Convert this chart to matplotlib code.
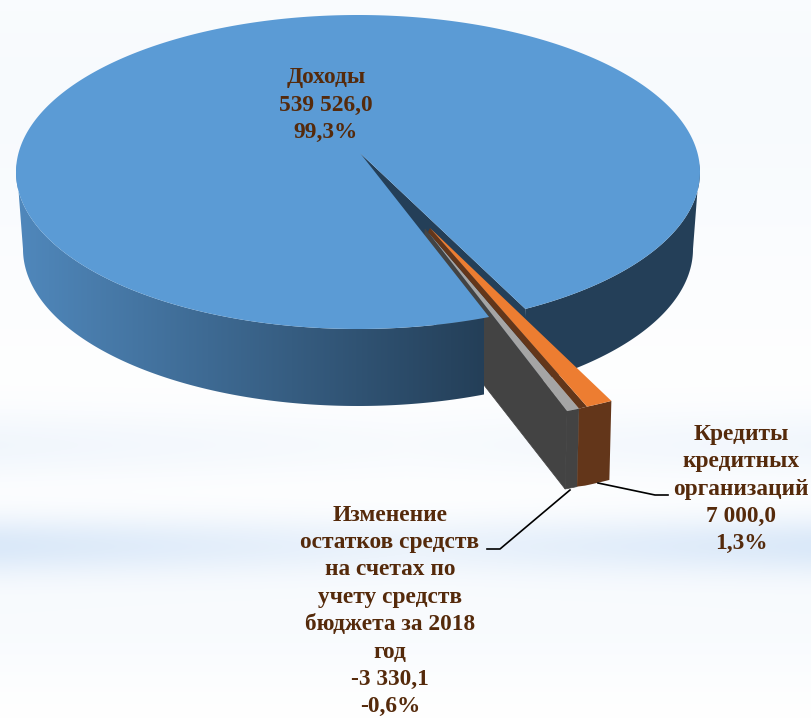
import numpy as np
import matplotlib
matplotlib.use('Agg')
import matplotlib.pyplot as plt
from matplotlib.colors import to_rgb
from matplotlib.patches import Polygon

# Data
names = ['Доходы', 'Кредиты\nкредитных\nорганизаций',
         'Изменение\nостатков средств\nна счетах по\nучету средств\nбюджета за 2018\nгод']
values = [539526.0, 7000.0, -3330.1]

TEXT_COLOR = '#552A0B'
BLUE = '#5B9BD5'
BLUE_DARK = '#243F58'
ORANGE = '#ED7D31'
ORANGE_DARK = '#63361A'
GRAY = '#A5A5A5'
GRAY_DARK = '#434343'

# Projected pie geometry, in pixels
RX, RY = 342, 157
RX_BOTTOM = 335
DEPTH = 77
START_ANGLE = 60.7


def arc(center, a0, a1, n=200, rx=RX):
    t = np.radians(np.linspace(a0, a1, n))
    return np.column_stack([center[0] + rx * np.cos(t), center[1] + RY * np.sin(t)])


def label_text(name, value):
    num = f'{value:,.1f}'.replace(',', ' ').replace('.', ',')
    pct = f'{value / sum(values) * 100:.1f}'.replace('.', ',')
    return f'{name}\n{num}\n{pct}%'


def make_background():
    y, x = np.mgrid[0:718, 0:812]
    side = 0.5 + 0.5 * np.abs(x - 406) / 406
    band = (0.28 * np.exp(-((y - 445) / 35.0) ** 2) * side
            + 0.75 * np.exp(-((y - 545) / 30.0) ** 2) * side
            + 0.15 * np.exp(-((y - 620) / 60.0) ** 2)
            + 0.16 * np.exp(-((y - 100) / 200.0) ** 2))
    band = np.clip(band, 0, 1)[..., None]
    return (1 - band) * np.array([1.0, 1.0, 1.0]) + band * np.array([0.82, 0.89, 0.97])


fig = plt.figure(figsize=(8.12, 7.18), dpi=100)
ax = fig.add_axes([0, 0, 1, 1])
ax.axis('off')
ax.imshow(make_background(), extent=(0, 812, 718, 0), aspect='auto', zorder=0)

# Slice angles from the values
total = sum(abs(v) for v in values)
sweep = [abs(v) / total * 360 for v in values]
a_orange = START_ANGLE + sweep[1]
a_gray = a_orange + sweep[2]

center = (358, 172)
base = (358, 172 + DEPTH)
apex = np.array([360, 153])
down = np.array([0, DEPTH])

# Main slice: right rim and the inner wall of the notch
rim_right = np.vstack([arc(center, -3, START_ANGLE), arc(base, START_ANGLE, 0, rx=RX_BOTTOM)])
ax.add_patch(Polygon(rim_right, fc=BLUE_DARK, ec='none', zorder=2))
notch_end = arc(center, START_ANGLE, START_ANGLE, 1)[0]
notch = np.vstack([apex, notch_end, notch_end + down, apex + down])
ax.add_patch(Polygon(notch, fc=BLUE_DARK, ec='none', zorder=2))

# Negative slice, its side wall goes under the main slice
g_center = (436, 266)
g_out = arc(g_center, a_orange, a_gray, 20)
g_apex = np.array([425, 229])
g_depth = np.array([-2, 78])
g_wall = np.vstack([g_apex, g_out[-1], g_out[-1] + g_depth, g_apex + g_depth])
ax.add_patch(Polygon(g_wall, fc=GRAY_DARK, ec=GRAY_DARK, lw=0.5, zorder=3))

# Main slice: left rim with gradient, then the top
rim_left = np.vstack([arc(center, a_gray, 183), arc(base, 180, a_gray, rx=RX_BOTTOM)])
rim_patch = Polygon(rim_left, fc='none', ec='none', zorder=4)
ax.add_patch(rim_patch)
grad = np.linspace(0, 1, 256)[None, :, None]
c0 = np.array(to_rgb('#5088BC'))
c1 = np.array(to_rgb(BLUE_DARK))
img = ax.imshow((1 - grad) * c0 + grad * c1, extent=(16, 484, 718, 0), aspect='auto', zorder=4)
img.set_clip_path(rim_patch)

top = np.vstack([apex, arc(center, a_gray, START_ANGLE + 360, 500)])
ax.add_patch(Polygon(top, fc=BLUE, ec='none', zorder=5))

# Exploded slices
g_front = np.vstack([g_out, (g_out + g_depth)[::-1]])
ax.add_patch(Polygon(g_front, fc=GRAY_DARK, ec=GRAY_DARK, lw=0.5, zorder=6))
ax.add_patch(Polygon(np.vstack([[428, 232], g_out]), fc=GRAY, ec='none', zorder=6))

o_center = (444, 264)
o_out = arc(o_center, START_ANGLE, a_orange, 20)
o_apex = np.array([430, 228])
o_depth = np.array([-2, 79])
strip = np.vstack([o_apex, o_out[-1], g_out[0], [428, 232]])
ax.add_patch(Polygon(strip, fc=ORANGE_DARK, ec='none', zorder=7))
# front face runs on to the edge of the gray slice
o_front = np.vstack([o_out, g_out[0], (g_out[0] + g_depth), (o_out + o_depth)[::-1]])
ax.add_patch(Polygon(o_front, fc=ORANGE_DARK, ec='none', zorder=7))
ax.add_patch(Polygon(np.vstack([o_apex, o_out]), fc=ORANGE, ec='none', zorder=7))

# Leader lines
ax.plot([598, 655, 668], [483, 495, 495], color='black', lw=1.2, zorder=8)
ax.plot([570, 500, 487], [490, 549, 549], color='black', lw=1.2, zorder=8)

# Labels
font = dict(family=['Liberation Serif', 'DejaVu Serif'], fontsize=16.8, fontweight='bold',
            color=TEXT_COLOR, ha='center', va='center', linespacing=1.4, zorder=9)
ax.text(326, 105, label_text(names[0], values[0]), **font)
ax.text(741, 489, label_text(names[1], values[1]), **font)
ax.text(390, 611, label_text(names[2], values[2]), **font)

ax.set_xlim(0, 812)
ax.set_ylim(718, 0)
fig.savefig('out.png', dpi=100)
